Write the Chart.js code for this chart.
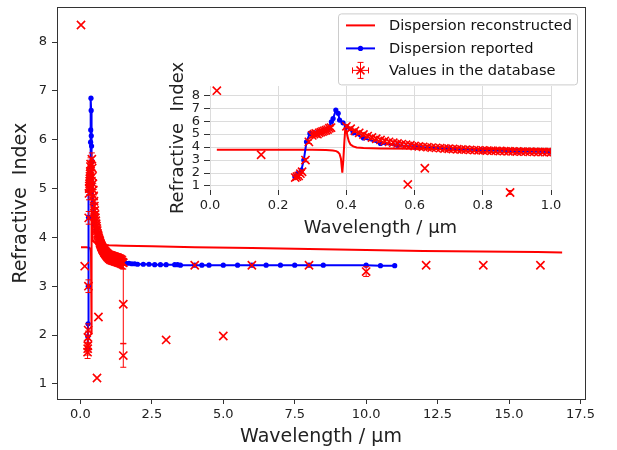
<!DOCTYPE html>
<html>
<head>
<meta charset="utf-8">
<script src="https://cdn.jsdelivr.net/npm/chart.js@4.4.1/dist/chart.umd.min.js"></script>
<style>
  html, body { margin: 0; padding: 0; background: #fff; }
  #wrap { position: relative; width: 617px; height: 450px; }
  #mainChart { position: absolute; left: 0; top: 0; }
  #insetChart { position: absolute; left: 150px; top: 60px; }
</style>
</head>
<body>
<div id="wrap">
  <canvas id="mainChart" width="617" height="450"></canvas>
  <canvas id="insetChart" width="420" height="185"></canvas>
</div>
<script>
const RED = '#ff0000';
const BLUE = '#0000ff';
const AXIS = '#333333';

// reconstructed dispersion (µm, n)
const recX = [0.02, 0.1, 0.2, 0.3, 0.34, 0.36, 0.37, 0.375, 0.38, 0.384, 0.388, 0.391, 0.394, 0.397, 0.4, 0.403, 0.407, 0.412, 0.42, 0.43, 0.45, 0.5, 0.6, 0.8, 1.0, 1.5, 2.5, 4, 6, 8, 10, 12, 14, 16, 16.86];
const recY = [3.8, 3.8, 3.8, 3.79, 3.77, 3.74, 3.69, 3.62, 3.47, 3.1, 2.02, 3.0, 4.4, 5.56, 5.3, 4.85, 4.45, 4.2, 4.05, 3.97, 3.92, 3.89, 3.87, 3.85, 3.84, 3.83, 3.82, 3.8, 3.78, 3.76, 3.74, 3.72, 3.71, 3.7, 3.69];

// reported dispersion
const repX = [0.249, 0.258, 0.268, 0.275, 0.283, 0.293, 0.307, 0.32, 0.335, 0.348,
  0.356, 0.361, 0.369, 0.376, 0.38, 0.39, 0.40, 0.42, 0.45, 0.50,
  0.55, 0.6, 0.7, 0.8, 0.9, 1.0, 1.1, 1.2, 1.3, 1.4,
  1.5, 1.6, 1.7, 1.8, 1.9, 2.0, 2.2, 2.4, 2.6, 2.8,
  3.0, 3.3, 3.4, 3.5, 4.0, 4.25, 4.5, 5.0, 5.5, 6.0,
  6.5, 7.0, 7.5, 8.0, 8.5, 10.0, 10.5, 11.0];
const repY = [1.72, 1.97, 2.23, 3.0, 4.41, 5.05, 5.1, 5.2, 5.3, 5.45,
  5.95, 6.2, 6.85, 6.6, 6.08, 5.87, 5.56, 5.1, 4.7, 4.28,
  4.15, 4.02, 3.87, 3.76, 3.68, 3.62, 3.58, 3.55, 3.52, 3.5,
  3.48, 3.47, 3.47, 3.46, 3.46, 3.45, 3.45, 3.45, 3.44, 3.44,
  3.44, 3.44, 3.44, 3.43, 3.43, 3.43, 3.43, 3.43, 3.43, 3.43,
  3.43, 3.43, 3.43, 3.43, 3.43, 3.43, 3.42, 3.42];

// database entries, densely sampled set (UV edge + visible/NIR tail)
const denseX = [0.25, 0.255, 0.26, 0.265, 0.27, 0.28, 0.29, 0.30, 0.305, 0.31,
  0.315, 0.32, 0.325, 0.33, 0.335, 0.34, 0.345, 0.35, 0.355,
  0.4, 0.4125, 0.425, 0.4375, 0.45, 0.4625, 0.475, 0.4875, 0.5, 0.5125,
  0.525, 0.5375, 0.55, 0.5625, 0.575, 0.5875, 0.6, 0.6125, 0.625, 0.6375,
  0.65, 0.6625, 0.675, 0.6875, 0.7, 0.7125, 0.725, 0.7375, 0.75, 0.7625,
  0.775, 0.7875, 0.8, 0.8125, 0.825, 0.8375, 0.85, 0.8625, 0.875, 0.8875,
  0.9, 0.9125, 0.925, 0.9375, 0.95, 0.9625, 0.975, 0.9875, 1.0,
  1.025, 1.05, 1.075, 1.1, 1.125, 1.15, 1.175, 1.2, 1.225, 1.25,
  1.275, 1.3, 1.325, 1.35, 1.375, 1.4, 1.425, 1.45, 1.475, 1.5];
const denseY = [1.65, 1.72, 1.78, 1.95, 2.1, 3.0, 4.4, 4.9, 5.0, 5.05,
  5.0, 5.1, 5.15, 5.2, 5.25, 5.3, 5.35, 5.45, 5.5,
  5.6, 5.42, 5.25, 5.1, 4.97, 4.85, 4.74, 4.64, 4.55, 4.47,
  4.4, 4.34, 4.28, 4.23, 4.18, 4.14, 4.08, 4.05, 4.02, 3.99,
  3.96, 3.94, 3.92, 3.89, 3.87, 3.85, 3.83, 3.81, 3.8, 3.78,
  3.77, 3.75, 3.74, 3.73, 3.72, 3.71, 3.7, 3.69, 3.68, 3.67,
  3.66, 3.65, 3.65, 3.64, 3.63, 3.62, 3.62, 3.61, 3.6,
  3.59, 3.59, 3.58, 3.58, 3.57, 3.57, 3.56, 3.56, 3.55, 3.55,
  3.54, 3.54, 3.53, 3.53, 3.52, 3.51, 3.51, 3.5, 3.49, 3.48];
const denseErr = 0.13;

// database entries, individual values with their quoted errors
const sparseX = [0.02, 0.15, 0.58, 0.63, 0.88, 1.5, 1.5, 3.0, 4.0, 5.0, 6.0, 8.0, 10.0, 12.1, 14.1, 16.1];
const sparseY = [8.35, 3.41, 1.12, 2.37, 0.5, 2.63, 1.58, 1.9, 3.43, 1.98, 3.43, 3.43, 3.3, 3.43, 3.43, 3.43];
const sparseErr = [0, 0, 0, 0, 0.15, 0.8, 0.24, 0, 0, 0, 0, 0, 0.1, 0, 0, 0];

const labels = ['Dispersion reconstructed', 'Dispersion reported', 'Values in the database'];

const toPts = (xs, ys) => xs.map((x, i) => ({ x: x, y: ys[i] }));

Chart.defaults.font.family = "'DejaVu Sans', sans-serif";
Chart.defaults.color = '#222';

function makeDatasets() {
  return [
    {
      label: labels[2], data: toPts(denseX, denseY), errs: denseX.map(() => denseErr),
      showLine: false, pointStyle: 'crossRot', pointRadius: 5.8, pointBorderWidth: 1.6,
      borderColor: RED, backgroundColor: RED, order: 0
    },
    {
      label: labels[2], data: toPts(sparseX, sparseY), errs: sparseErr,
      showLine: false, pointStyle: 'crossRot', pointRadius: 5.8, pointBorderWidth: 1.6,
      borderColor: RED, backgroundColor: RED, order: 0
    },
    {
      label: labels[1], data: toPts(repX, repY), showLine: true,
      borderColor: BLUE, backgroundColor: BLUE, borderWidth: 2,
      pointRadius: 2.6, pointBorderWidth: 0, order: 1
    },
    {
      label: labels[0], data: toPts(recX, recY), showLine: true,
      borderColor: RED, backgroundColor: RED, borderWidth: 2,
      pointRadius: 0, order: 2
    }
  ];
}

// vertical error bars with caps
const errorBars = {
  id: 'errorBars',
  afterDatasetsDraw(chart, args, opts) {
    const { ctx, chartArea: a, scales } = chart;
    const extra = opts.extraBottom || 0;
    ctx.save();
    ctx.beginPath();
    ctx.rect(a.left, a.top, a.right - a.left, a.bottom - a.top + extra);
    ctx.clip();
    ctx.strokeStyle = RED;
    ctx.lineWidth = 1;
    chart.data.datasets.forEach(ds => {
      if (!ds.errs) return;
      ds.data.forEach((p, i) => {
        const e = ds.errs[i];
        if (!e) return;
        const px = scales.x.getPixelForValue(p.x);
        const top = scales.y.getPixelForValue(p.y + e);
        const bot = scales.y.getPixelForValue(p.y - e);
        ctx.beginPath();
        ctx.moveTo(px, top); ctx.lineTo(px, bot);
        ctx.moveTo(px - 3, top); ctx.lineTo(px + 3, top);
        ctx.moveTo(px - 3, bot); ctx.lineTo(px + 3, bot);
        ctx.stroke();
      });
    });
    ctx.restore();
  }
};

// closed frame around the main plot
const frame = {
  id: 'frame',
  afterDraw(chart) {
    const { ctx, chartArea: a } = chart;
    ctx.save();
    ctx.strokeStyle = AXIS;
    ctx.lineWidth = 1;
    ctx.strokeRect(Math.round(a.left) + 0.5, Math.round(a.top) + 0.5,
      Math.round(a.right - a.left), Math.round(a.bottom - a.top));
    ctx.restore();
  }
};

// legend box in the upper right corner
const legendBox = {
  id: 'legendBox',
  afterDraw(chart) {
    const ctx = chart.ctx;
    const a = chart.chartArea;
    const w = 239, h = 71;
    const x0 = a.right - 8 - w, y0 = a.top + 6;
    ctx.save();
    ctx.beginPath();
    ctx.roundRect(x0 + 0.5, y0 + 0.5, w, h, 3);
    ctx.fillStyle = 'rgba(255,255,255,0.8)';
    ctx.fill();
    ctx.strokeStyle = '#cccccc';
    ctx.lineWidth = 1;
    ctx.stroke();

    const rows = [y0 + 12, y0 + 35, y0 + 57];
    const lx = x0 + 8, lw = 29;
    ctx.lineWidth = 2;
    // reconstructed
    ctx.strokeStyle = RED;
    ctx.beginPath(); ctx.moveTo(lx, rows[0]); ctx.lineTo(lx + lw, rows[0]); ctx.stroke();
    // reported
    ctx.strokeStyle = BLUE;
    ctx.beginPath(); ctx.moveTo(lx, rows[1]); ctx.lineTo(lx + lw, rows[1]); ctx.stroke();
    ctx.fillStyle = BLUE;
    ctx.beginPath(); ctx.arc(lx + lw / 2, rows[1], 2.6, 0, Math.PI * 2); ctx.fill();
    // database marker with error bar
    const cx = lx + lw / 2, cy = rows[2];
    ctx.strokeStyle = RED;
    ctx.lineWidth = 1;
    ctx.beginPath();
    ctx.moveTo(cx, cy - 8); ctx.lineTo(cx, cy + 8);
    ctx.moveTo(cx - 3, cy - 8); ctx.lineTo(cx + 3, cy - 8);
    ctx.moveTo(cx - 3, cy + 8); ctx.lineTo(cx + 3, cy + 8);
    ctx.moveTo(cx - 8, cy); ctx.lineTo(cx + 8, cy);
    ctx.moveTo(cx - 8, cy - 3); ctx.lineTo(cx - 8, cy + 3);
    ctx.moveTo(cx + 8, cy - 3); ctx.lineTo(cx + 8, cy + 3);
    ctx.stroke();
    ctx.lineWidth = 1.5;
    ctx.beginPath();
    ctx.moveTo(cx - 4, cy - 4); ctx.lineTo(cx + 4, cy + 4);
    ctx.moveTo(cx - 4, cy + 4); ctx.lineTo(cx + 4, cy - 4);
    ctx.stroke();

    ctx.fillStyle = '#111';
    ctx.font = "14.6px 'DejaVu Sans'";
    ctx.textBaseline = 'middle';
    labels.forEach((t, i) => ctx.fillText(t, x0 + 51, rows[i] + 1));
    ctx.restore();
  }
};

// white plotting area for the inset
const insetBg = {
  id: 'insetBg',
  beforeDraw(chart) {
    const { ctx, chartArea: a } = chart;
    ctx.save();
    ctx.fillStyle = '#fff';
    ctx.fillRect(a.left, a.top, a.right - a.left, a.bottom - a.top);
    ctx.restore();
  }
};

const tickFont = { size: 13 };
const fix1 = v => Number(v).toFixed(1);

// axis boxes get fixed sizes and no label-overflow padding
const fitX = h => s => { s.height = h; s.paddingLeft = 0; s.paddingRight = 0; };
const fitY = w => s => { s.width = w; s.paddingTop = 0; s.paddingBottom = 0; };

new Chart(document.getElementById('mainChart'), {
  type: 'scatter',
  data: { datasets: makeDatasets() },
  options: {
    responsive: false,
    animation: false,
    layout: { padding: { left: 0, right: 32, top: 5, bottom: 0 } },
    plugins: { legend: { display: false }, tooltip: { enabled: false }, errorBars: { extraBottom: 0 } },
    scales: {
      x: {
        type: 'linear', min: -0.82, max: 17.66,
        afterFit: fitX(51),
        border: { display: true, color: AXIS },
        grid: { display: true, drawOnChartArea: false, drawTicks: true, tickLength: 5, color: AXIS },
        ticks: { stepSize: 2.5, includeBounds: false, autoSkip: false, maxRotation: 0, padding: 3, font: tickFont, color: '#222', callback: fix1 },
        title: { display: true, text: 'Wavelength / µm', font: { size: 19 }, color: '#222', padding: { top: 0, bottom: 1.6 } }
      },
      y: {
        type: 'linear', min: 0.69, max: 8.71,
        afterFit: fitY(57),
        border: { display: true, color: AXIS },
        grid: { display: true, drawOnChartArea: false, drawTicks: true, tickLength: 5, color: AXIS },
        ticks: { stepSize: 1, includeBounds: false, autoSkip: false, padding: 5, font: tickFont, color: '#222' },
        title: { display: true, text: 'Refractive  Index', font: { size: 19 }, color: '#222', padding: { top: 9.6, bottom: 0 } }
      }
    }
  },
  plugins: [errorBars, frame, legendBox]
});

new Chart(document.getElementById('insetChart'), {
  type: 'scatter',
  data: {
    datasets: makeDatasets().map(ds => Object.assign(ds, { clip: { left: 0, top: 0, right: 0, bottom: 10 } }))
  },
  options: {
    responsive: false,
    animation: false,
    layout: { padding: { left: 0, right: 19, top: 26, bottom: 0 } },
    plugins: { legend: { display: false }, tooltip: { enabled: false }, errorBars: { extraBottom: 10 } },
    scales: {
      x: {
        type: 'linear', min: 0, max: 1,
        afterFit: fitX(55),
        border: { display: false },
        grid: { display: true, color: '#dcdcdc', tickColor: AXIS, tickLength: 5, lineWidth: 1 },
        ticks: { stepSize: 0.2, includeBounds: false, autoSkip: false, maxRotation: 0, padding: 3, font: tickFont, color: '#222', callback: fix1 },
        title: { display: true, text: 'Wavelength / µm', font: { size: 18 }, color: '#222', padding: { top: 0, bottom: 6.2 } }
      },
      y: {
        type: 'linear', min: 0.69, max: 8.71,
        afterFit: fitY(60),
        border: { display: false },
        grid: { display: true, color: '#dcdcdc', tickColor: AXIS, tickLength: 6, lineWidth: 1 },
        ticks: { stepSize: 1, includeBounds: false, autoSkip: false, padding: 4, font: tickFont, color: '#222' },
        title: { display: true, text: 'Refractive  Index', font: { size: 18 }, color: '#222', padding: { top: 17.2, bottom: 0 } }
      }
    }
  },
  plugins: [insetBg, errorBars]
});
</script>
</body>
</html>
